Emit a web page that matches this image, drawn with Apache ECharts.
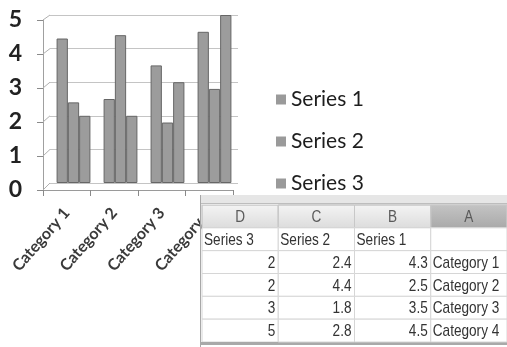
<!DOCTYPE html>
<html>
<head>
<meta charset="utf-8">
<script src="https://cdn.jsdelivr.net/npm/echarts@6/dist/echarts.min.js"></script>
<style>
html,body{margin:0;padding:0;background:#fff;}
#main{width:507px;height:347px;}
</style>
</head>
<body>
<div id="main"></div>
<script>
const categories = ['Category 1', 'Category 2', 'Category 3', 'Category 4'];
const seriesNames = ['Series 1', 'Series 2', 'Series 3'];
const series1 = [4.3, 2.5, 3.5, 4.5];
const series2 = [2.4, 4.4, 1.8, 2.8];
const series3 = [2, 2, 3, 5];
const yTicks = [0, 1, 2, 3, 4, 5];
const tableColumns = ['D', 'C', 'B', 'A'];

// build table cells from the data arrays
const tableRows = ['header', 'names', 'r1', 'r2', 'r3', 'r4'];
const cells = [];
tableColumns.forEach((c, i) => cells.push({col: i, row: 0, text: c, kind: 'header', sel: c === 'A'}));
[seriesNames[2], seriesNames[1], seriesNames[0], ''].forEach((t, i) => cells.push({col: i, row: 1, text: t, kind: 'left'}));
categories.forEach((cat, r) => {
  [series3[r], series2[r], series1[r]].forEach((v, i) => cells.push({col: i, row: r + 2, text: String(v), kind: 'right'}));
  cells.push({col: 3, row: r + 2, text: cat, kind: 'left'});
});

const chart = echarts.init(document.getElementById('main'));
const barColor = '#9c9c9c';
const barStyle = {color: barColor, borderColor: '#666666', borderWidth: 1};
const tableFont = "'Liberation Sans', Arial, sans-serif";
const narrow = 0.8;

function renderCell(params, api) {
  const cell = cells[params.dataIndex];
  const c = api.coord([cell.col, cell.row]);
  const s = api.size([1, 1]);
  const x = c[0] - s[0] / 2, y = c[1] - s[1] / 2, w = s[0], h = s[1];
  const children = [];
  if (cell.kind === 'header') {
    children.push({type: 'rect', shape: {x: x, y: y, width: w, height: h},
      style: {fill: new echarts.graphic.LinearGradient(0, 0, 0, 1, cell.sel ?
        [{offset: 0, color: '#c4c4c4'}, {offset: 1, color: '#a9a9a9'}] :
        [{offset: 0, color: '#f4f4f4'}, {offset: 1, color: '#dcdcdc'}]), stroke: '#c8c8c8', lineWidth: 1}});
    children.push({type: 'text', x: x + w / 2, y: y + h / 2 + 1, scaleX: narrow,
      style: {x: 0, y: 0, text: cell.text, align: 'center', verticalAlign: 'middle',
      fill: '#5a5a5a', font: "17px " + tableFont}});
    if (cell.col === 0) {
      // window strip above the header
      children.push({type: 'rect', shape: {x: x - 2, y: y - 10, width: 400, height: 10}, style: {fill: '#e6e6e6', stroke: null}});
      children.push({type: 'line', shape: {x1: x - 2, y1: y - 1.5, x2: x + 400, y2: y - 1.5}, style: {stroke: '#bdbdbd', lineWidth: 1}});
      children.push({type: 'line', shape: {x1: x - 1.5, y1: y - 10, x2: x - 1.5, y2: y + h * 6 + 5}, style: {stroke: '#a8a8a8', lineWidth: 1}});
    }
  } else {
    children.push({type: 'rect', shape: {x: x, y: y, width: w, height: h}, style: {fill: '#ffffff', stroke: '#d6d6d6', lineWidth: 1}});
    const isRight = cell.kind === 'right';
    children.push({type: 'text', x: isRight ? x + w - 3 : x + 2, y: y + h / 2 + 1, scaleX: narrow,
      style: {x: 0, y: 0, text: cell.text,
      align: isRight ? 'right' : 'left', verticalAlign: 'middle', fill: '#333333', font: "17px " + tableFont}});
    if (cell.row === 5 && cell.col === 0) {
      children.push({type: 'rect', shape: {x: x - 2, y: y + h, width: 400, height: 3}, style: {fill: '#a9a9a9', stroke: null}});
    }
  }
  return {type: 'group', children: children};
}

chart.setOption({
  animation: false,
  backgroundColor: '#ffffff',
  legend: {
    orient: 'vertical', left: 271, top: 84, itemWidth: 10, itemHeight: 10, itemGap: 21, icon: 'rect',
    itemStyle: {borderWidth: 0, color: '#9a9a9a'},
    textStyle: {fontSize: 21, color: '#1e1e1e', fontFamily: 'Lato'},
    data: seriesNames
  },
  grid: [
    {left: 43, top: 20, width: 190, height: 170, outerBoundsMode: 'none'},
    {left: 50, top: 15, width: 188, height: 168, outerBoundsMode: 'none'},
    {left: 202, top: 205, width: 305, height: 137, outerBoundsMode: 'none'}
  ],
  xAxis: [
    {gridIndex: 0, type: 'category', data: categories,
      axisLine: {show: true, lineStyle: {color: '#9a9a9a'}},
      axisTick: {show: true, length: 6, lineStyle: {color: '#8a8a8a'}},
      axisLabel: {rotate: 49, margin: 20, fontSize: 16, fontWeight: 'bold', color: '#3a3a3a', fontFamily: 'Lato'}},
    {gridIndex: 1, type: 'category', data: categories, show: false},
    {gridIndex: 2, type: 'category', data: tableColumns, show: false}
  ],
  yAxis: [
    {gridIndex: 0, type: 'value', min: yTicks[0], max: yTicks[yTicks.length - 1], interval: 1,
      axisLine: {show: true, lineStyle: {color: '#a0a0a0'}},
      axisTick: {show: true, length: 6, lineStyle: {color: '#8a8a8a'}},
      splitLine: {show: false},
      axisLabel: {fontSize: 23, fontWeight: 'bold', color: '#222', margin: 21, fontFamily: 'Lato'}},
    {gridIndex: 1, type: 'value', min: yTicks[0], max: yTicks[yTicks.length - 1], interval: 1,
      axisLine: {show: false}, axisTick: {show: false}, axisLabel: {show: false},
      splitLine: {show: true, lineStyle: {color: '#c4c4c4', width: 1}}},
    {gridIndex: 2, type: 'category', data: tableRows, inverse: true, show: false}
  ],
  series: [
    {name: seriesNames[0], type: 'bar', xAxisIndex: 1, yAxisIndex: 1, data: series1, barGap: '0%', barCategoryGap: '28%', itemStyle: barStyle},
    {name: seriesNames[1], type: 'bar', xAxisIndex: 1, yAxisIndex: 1, data: series2, barGap: '0%', barCategoryGap: '28%', itemStyle: barStyle},
    {name: seriesNames[2], type: 'bar', xAxisIndex: 1, yAxisIndex: 1, data: series3, barGap: '0%', barCategoryGap: '28%', itemStyle: barStyle},
    {type: 'custom', xAxisIndex: 2, yAxisIndex: 2, z: 20, renderItem: renderCell,
      data: cells.map(c => [c.col, c.row]), silent: true}
  ]
});

// left-wall edges of the 3D frame, joining front axis ticks to back wall gridlines
const gx0 = chart.getModel().getComponent('grid', 0).coordinateSystem.getRect().x;
const gx1 = chart.getModel().getComponent('grid', 1).coordinateSystem.getRect().x;
const edges = yTicks.map(t => {
  const p0 = chart.convertToPixel({xAxisIndex: 0, yAxisIndex: 0}, [0, t]);
  const p1 = chart.convertToPixel({xAxisIndex: 1, yAxisIndex: 1}, [0, t]);
  return {type: 'line', shape: {x1: gx0, y1: p0[1], x2: gx1, y2: p1[1]}, style: {stroke: '#b0b0b0', lineWidth: 1}, z: 1};
});
chart.setOption({graphic: edges});
</script>
</body>
</html>
